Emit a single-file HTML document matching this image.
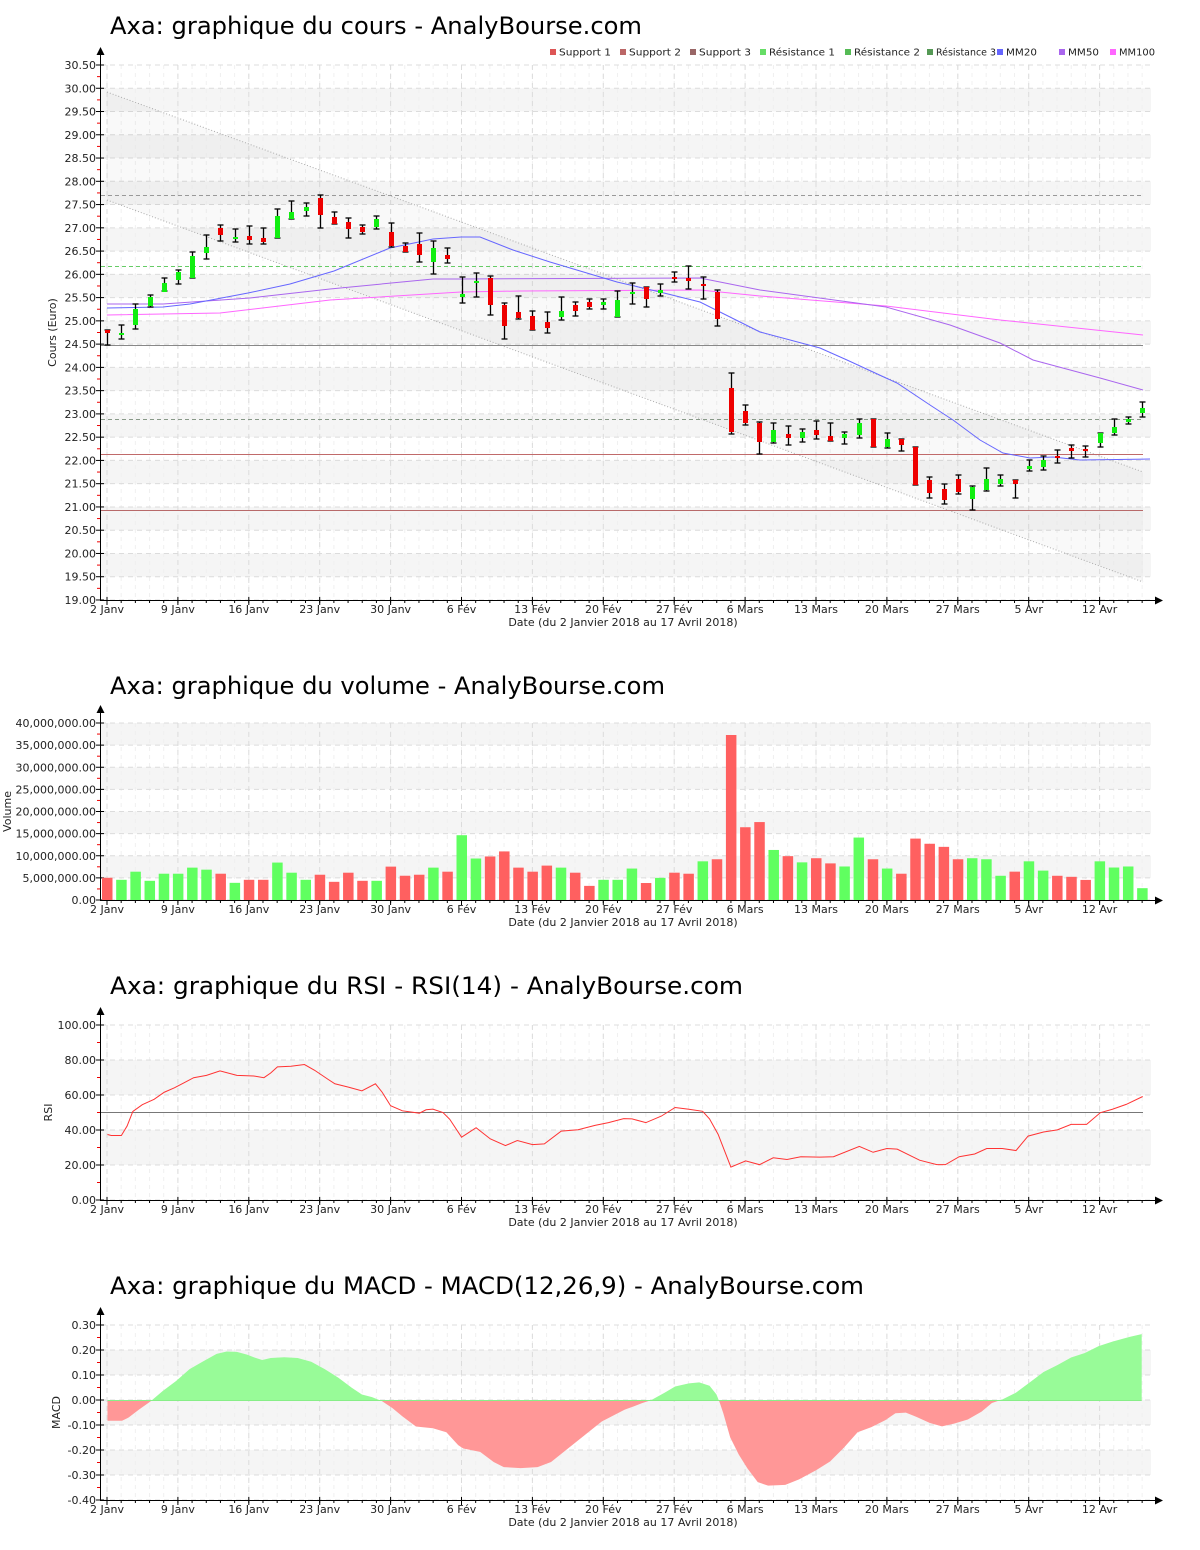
<!DOCTYPE html>
<html><head><meta charset="utf-8"><style>
html,body{margin:0;padding:0;background:#fff;}
svg{display:block;}
text{font-family:"DejaVu Sans","Liberation Sans",sans-serif;}
</style></head><body>
<svg id="s" width="1200" height="1550" xmlns="http://www.w3.org/2000/svg"></svg>
<script>
var S=document.getElementById('s');var out='';
function X(i){return 107+i*14.18;}
function add(s){out+=s;}
var dates=[[0,'2 Janv'],[5,'9 Janv'],[10,'16 Janv'],[15,'23 Janv'],[20,'30 Janv'],[25,'6 Fév'],[30,'13 Fév'],[35,'20 Fév'],[40,'27 Fév'],[45,'6 Mars'],[50,'13 Mars'],[55,'20 Mars'],[60,'27 Mars'],[65,'5 Avr'],[70,'12 Avr']];
function frame(top,bot,xaxisY,labels,grayBands,title,titleY,titleW,ylab,ylabX){
  grayBands.forEach(function(b){add('<rect x="101" y="'+b[0]+'" width="1050" height="'+(b[1]-b[0])+'" fill="#f5f5f5"/>');});
  for(var i=0;i<74;i++){add('<line x1="'+X(i)+'" y1="'+top+'" x2="'+X(i)+'" y2="'+xaxisY+'" stroke="#f0f0f0" stroke-dasharray="4,4"/>');}
  dates.forEach(function(d){add('<line x1="'+X(d[0])+'" y1="'+top+'" x2="'+X(d[0])+'" y2="'+xaxisY+'" stroke="#dcdcdc" stroke-dasharray="5,4"/>');});
  labels.forEach(function(l){add('<line x1="101" y1="'+l[0]+'" x2="1151" y2="'+l[0]+'" stroke="#dcdcdc" stroke-dasharray="5,4"/>');
    add('<text x="96" y="'+(l[0]+4)+'" font-size="11" text-anchor="end" fill="#222">'+l[1]+'</text>');
    add('<line x1="96" y1="'+l[0]+'" x2="104" y2="'+l[0]+'" stroke="#000"/>');});
  for(var k=0;k<labels.length-1;k++){var m=(labels[k][0]+labels[k+1][0])/2;add('<line x1="97" y1="'+m+'" x2="101" y2="'+m+'" stroke="#e00"/>');}
  add('<line x1="100.5" y1="'+(top-14)+'" x2="100.5" y2="'+xaxisY+'" stroke="#000"/>');
  add('<polygon points="100.5,'+(top-18)+' 96.5,'+(top-10)+' 104.5,'+(top-10)+'" fill="#000"/>');
  add('<line x1="100" y1="'+(xaxisY+0.5)+'" x2="1158" y2="'+(xaxisY+0.5)+'" stroke="#000"/>');
  add('<polygon points="1163,'+(xaxisY+0.5)+' 1155,'+(xaxisY-3.5)+' 1155,'+(xaxisY+4.5)+'" fill="#000"/>');
  for(var i=0;i<74;i++){add('<line x1="'+X(i)+'" y1="'+xaxisY+'" x2="'+X(i)+'" y2="'+(xaxisY+3)+'" stroke="#000"/>');}
  dates.forEach(function(d){add('<line x1="'+X(d[0])+'" y1="'+(xaxisY-3)+'" x2="'+X(d[0])+'" y2="'+(xaxisY+5)+'" stroke="#000"/>');
    add('<text x="'+X(d[0])+'" y="'+(xaxisY+13)+'" font-size="11" text-anchor="middle" fill="#222">'+d[1]+'</text>');});
  add('<text x="623" y="'+(xaxisY+26)+'" font-size="11" text-anchor="middle" fill="#222">Date (du 2 Janvier 2018 au 17 Avril 2018)</text>');
  add('<text x="110" y="'+titleY+'" font-size="24" textLength="'+titleW+'" lengthAdjust="spacingAndGlyphs" fill="#000">'+title+'</text>');
  var cy=(top+xaxisY)/2;
  add('<text x="'+ylabX+'" y="'+cy+'" font-size="11" text-anchor="middle" fill="#222" transform="rotate(-90 '+ylabX+' '+cy+')">'+ylab+'</text>');
}
var pl=[],gb=[];
for(var k=0;k<=23;k++){var v=30.5-k*0.5;pl.push([65+k*23.26,v.toFixed(2)]);}
for(var v=30;v>19.6;v-=1){var y1=65+(30.5-v)*46.52;gb.push([y1,y1+23.26]);}
frame(65,600,600,pl,gb,'Axa: graphique du cours - AnalyBourse.com',34,532,'Cours (Euro)',56);
add('<polygon points="107,92 1143,472 1143,582 107,200" fill="rgba(0,0,0,0.025)"/>');
add('<line x1="107" y1="92" x2="1143" y2="472" stroke="#aaa" stroke-dasharray="1,2"/>');
add('<line x1="107" y1="200" x2="1143" y2="582" stroke="#aaa" stroke-dasharray="1,2"/>');
add('<line x1="101" y1="510.5" x2="1143" y2="510.5" stroke="#b86a6a" stroke-width="1"/>');
add('<line x1="101" y1="454.5" x2="1143" y2="454.5" stroke="#c06a6a" stroke-width="1"/>');
add('<line x1="101" y1="345.5" x2="1143" y2="345.5" stroke="#888" stroke-width="1"/>');
add('<line x1="101" y1="266.5" x2="1143" y2="266.5" stroke="#66cc66" stroke-dasharray="4,3"/>');
add('<line x1="101" y1="419.5" x2="1143" y2="419.5" stroke="#889988" stroke-dasharray="4,3"/>');
add('<line x1="101" y1="195.5" x2="1143" y2="195.5" stroke="#999" stroke-dasharray="4,3"/>');
function poly(pts,c){add('<polyline points="'+pts.map(function(p){return p[0]+','+p[1];}).join(' ')+'" fill="none" stroke="'+c+'" stroke-width="1"/>');}
poly([[107,315],[220,313],[330,300],[461,292],[520,291],[700,290],[760,296],[886,306],[1000,320],[1143,335]],'#ff66ff');
poly([[107,304],[163,304],[250,298],[330,289],[433,279],[461,279],[700,278],[760,290],[886,307],[950,325],[1000,343],[1033,360],[1100,378],[1143,390]],'#aa66ee');
poly([[107,308],[163,307],[190,304],[248,293],[290,284],[334,271],[390,248],[433,239],[461,237],[480,237],[513,250],[550,262],[617,282],[660,292],[700,302],[740,322],[760,332],[820,348],[847,360],[886,378],[897,383],[930,405],[953,420],[980,440],[1003,453],[1030,458],[1053,457],[1080,460],[1150,459]],'#6666ff');
var C=[[330,333,330,345,'r'],[333,335,325,339,'g'],[309,325,304,329,'g'],[297,306,295,307,'g'],[283,292,278,291,'g'],[272,280,270,284,'g'],[256,278,252,278,'g'],[247,253,235,259,'g'],[228,235,225,241,'r'],[237,239,229,242,'g'],
[236,240,226,244,'r'],[238,242,228,244,'r'],[216,238,209,238,'g'],[212,219,201,219,'g'],[207,211,203,216,'g'],[198,215,195,228,'r'],[217,224,212,224,'r'],[222,229,218,238,'r'],[227,232,225,234,'r'],[219,227,216,229,'g'],
[232,246,223,247,'r'],[246,252,243,252,'r'],[244,255,233,262,'r'],[248,262,241,274,'g'],[255,259,248,263,'r'],[294,297,277,303,'g'],[281,283,273,297,'g'],[278,305,276,315,'r'],[305,326,303,339,'r'],[312,318,296,319,'r'],
[316,330,311,330,'r'],[322,328,312,333,'r'],[311,317,297,320,'g'],[305,311,302,316,'r'],[302,307,299,309,'r'],[302,305,299,309,'g'],[300,317,291,317,'g'],[292,294,283,304,'g'],[287,299,287,307,'r'],[290,293,284,296,'g'],
[277,279,272,282,'r'],[278,281,266,289,'r'],[284,286,277,299,'r'],[292,319,290,326,'r'],[388,432,373,434,'r'],[411,423,405,425,'r'],[423,442,422,454,'r'],[430,442,423,443,'g'],[434,438,426,445,'r'],[432,438,429,442,'g'],
[430,435,421,439,'r'],[436,441,423,441,'r'],[434,438,432,444,'g'],[423,435,419,438,'g'],[419,447,419,447,'r'],[439,447,433,448,'g'],[439,445,439,451,'r'],[447,485,447,485,'r'],[480,493,477,498,'r'],[489,500,484,504,'r'],
[479,492,475,494,'r'],[487,499,486,510,'g'],[479,490,468,491,'g'],[479,484,475,486,'g'],[480,484,480,498,'r'],[466,469,460,471,'g'],[460,467,456,470,'g'],[456,458,450,463,'r'],[448,451,445,458,'r'],[449,451,446,457,'r'],
[433,443,433,447,'g'],[427,433,419,435,'g'],[419,422,417,424,'g'],[408,413,402,417,'g']];
C.forEach(function(c,i){var x=Math.round(X(i))+0.5;
  add('<line x1="'+x+'" y1="'+c[2]+'" x2="'+x+'" y2="'+c[3]+'" stroke="#000" stroke-width="1.3"/>');
  add('<line x1="'+(x-3)+'" y1="'+c[2]+'" x2="'+(x+3)+'" y2="'+c[2]+'" stroke="#000" stroke-width="1.3"/>');
  add('<line x1="'+(x-3)+'" y1="'+c[3]+'" x2="'+(x+3)+'" y2="'+c[3]+'" stroke="#000" stroke-width="1.3"/>');
  var h=Math.max(c[1]-c[0],2);
  add('<rect x="'+(x-2.5)+'" y="'+c[0]+'" width="5" height="'+h+'" fill="'+(c[4]=='r'?'#ee0000':'#11ee11')+'"/>');});
var L=[[552,'#dd5555','Support 1',52],[622,'#bb6666','Support 2',52],[692,'#996666','Support 3',52],[762,'#66dd66','Résistance 1',66],[847,'#55bb55','Résistance 2',66],[929,'#559955','Résistance 3',60],[999,'#6666ff','MM20',31],[1061,'#aa66ee','MM50',31],[1112,'#ff66ff','MM100',36]];
L.forEach(function(l){add('<rect x="'+(l[0]-2)+'" y="49" width="6" height="6" fill="'+l[1]+'"/>');add('<text x="'+(l[0]+7)+'" y="55.5" font-size="10" textLength="'+l[3]+'" lengthAdjust="spacingAndGlyphs" fill="#222">'+l[2]+'</text>');});
var vl=[],vb=[];
for(var k=0;k<=8;k++){var m=40-k*5;var s=(m*1000000).toLocaleString('en-US')+'.00';if(m==0)s='0.00';vl.push([723+k*22.125,s]);}
[[723,745.1],[767.25,789.4],[811.5,833.6],[855.75,877.9]].forEach(function(b){vb.push(b);});
frame(723,900,900,vl,vb,'Axa: graphique du volume - AnalyBourse.com',694,555,'Volume',11);
var v1=[[171,'r'],[177,'g'],[153,'g'],[180,'g'],[159,'g'],[159,'g'],[141,'g'],[147,'g'],[159,'r'],[186,'g'],[177,'r'],[177,'r'],[126,'g'],[156,'g'],[177,'g'],[162,'r'],[183,'r'],[156,'r'],[180,'r'],[180,'g'],[138,'r'],[165,'r'],[162,'r'],[141,'g'],[153,'r'],[45,'g'],[114,'g'],[108,'r'],[93,'r'],[141,'r'],[153,'r'],[135,'r'],[141,'g'],[156,'r'],[195,'r'],[177,'g'],[177,'g']];
var v2=[[141,'g'],[183,'r'],[168,'g'],[153,'r'],[156,'r'],[120,'g'],[114,'r'],[-40,'r'],[21,'r'],[6,'r'],[87,'g'],[105,'r'],[123,'g'],[111,'r'],[126,'r'],[135,'g'],[51,'g'],[114,'r'],[141,'g'],[156,'r'],[54,'r'],[69,'r'],[78,'r'],[114,'r'],[111,'g'],[114,'g'],[162,'g'],[150,'r'],[120,'g'],[147,'g'],[162,'r'],[165,'r'],[174,'r'],[120,'g'],[138,'g'],[135,'g'],[198,'g']];
var V=v1.map(function(v){return [820+v[0]/2.96,v[1]];}).concat(v2.map(function(v){return [820+v[0]/2.904,v[1]];}));
V[44][0]=735;
V.forEach(function(v,i){var x=X(i);add('<rect x="'+(x-5)+'" y="'+v[0]+'" width="10.5" height="'+(900-v[0])+'" fill="'+(v[1]=='r'?'#ff6060':'#60ff60')+'"/>');});
var rl=[];for(var k=0;k<=5;k++){rl.push([1025+k*35,(100-k*20).toFixed(2)]);}
frame(1025,1200,1200,rl,[[1060,1095],[1130,1165]],'Axa: graphique du RSI - RSI(14) - AnalyBourse.com',994,633,'RSI',52);
add('<line x1="101" y1="1112.5" x2="1143" y2="1112.5" stroke="#777"/>');
var r1=[[37,250],[48,253],[78,253],[95,225],[112,182],[140,162],[175,146],[205,125],[235,112],[262,98],[292,82],[330,75],[370,62],[420,75],[470,77],[500,82],[520,68],[540,50],[580,48],[620,43],[650,60],[690,87],[710,100],[750,110],[790,121],[830,100],[850,125],[875,165],[910,180],[960,187],[980,177],[1000,175],[1030,185],[1050,205],[1085,258],[1105,245],[1128,230],[1170,263],[1215,283],[1250,268],[1295,280],[1330,278],[1380,240],[1430,236],[1480,223],[1520,215],[1565,203]];
var r2=[[35,200],[75,211],[120,192],[160,167],[200,172],[240,178],[260,200],[285,245],[322,340],[365,322],[405,333],[445,313],[485,318],[525,310],[580,311],[620,310],[695,280],[735,297],[775,286],[805,288],[870,320],[920,333],[945,333],[985,310],[1030,302],[1065,286],[1110,286],[1150,292],[1185,250],[1230,238],[1270,232],[1310,216],[1355,216],[1395,182],[1430,172],[1470,158],[1518,135]];
var R=r1.map(function(p){return [95+p[0]/2.96,1050+p[1]/2.96];}).concat(r2.map(function(p){return [620+p[0]/2.904,1050+p[1]/2.904];}));
poly(R,'#ff3333');
var ml=[];for(var k=0;k<=7;k++){var v=0.3-k*0.1;ml.push([1325+k*25,v.toFixed(2)=='-0.00'?'0.00':v.toFixed(2)]);}
frame(1325,1500,1500,ml,[[1350,1375],[1400,1425],[1450,1475]],'Axa: graphique du MACD - MACD(12,26,9) - AnalyBourse.com',1294,754,'MACD',60);
var m1=[[37,328],[80,328],[100,318],[130,295],[165,270],[200,240],[240,210],[280,175],[320,152],[360,130],[390,123],[420,124],[450,132],[470,140],[495,148],[520,142],[560,140],[600,142],[640,153],[680,175],[720,200],[760,230],[790,250],[820,258],[850,270],[880,290],[910,315],[950,345],[1000,350],[1040,362],[1075,400],[1090,410],[1140,420],[1180,450],[1210,465],[1260,468],[1310,465],[1350,450],[1400,410],[1450,370],[1500,330],[1568,295]];
var m2=[[40,280],[65,270],[90,262],[130,240],[160,222],[200,213],[230,210],[260,220],[280,245],[290,270],[300,300],[320,370],[345,420],[370,460],[400,500],[430,510],[480,508],[520,492],[570,465],[610,440],[650,400],[690,355],[730,340],[770,320],[800,300],[830,298],[860,310],[900,328],[935,338],[970,330],[1010,318],[1050,295],[1080,270],[1110,260],[1150,240],[1190,210],[1230,180],[1270,160],[1310,138],[1350,125],[1390,105],[1430,92],[1480,78],[1515,70]];
var M=m1.map(function(p){return [95+p[0]/2.96,1310+p[1]/2.96];}).concat(m2.map(function(p){return [620+p[0]/2.904,1310+p[1]/2.904];}));
var last=M[M.length-1][0];
var pts=M.map(function(p){return p[0]+','+p[1];}).join(' ')+' '+last+',1400.5 '+M[0][0]+',1400.5';
add('<defs><clipPath id="ca"><rect x="100" y="1300" width="1060" height="100.5"/></clipPath><clipPath id="cb"><rect x="100" y="1400.5" width="1060" height="100"/></clipPath></defs>');
add('<polygon points="'+pts+'" fill="#98fb98" clip-path="url(#ca)"/>');
add('<polygon points="'+pts+'" fill="#ff9797" clip-path="url(#cb)"/>');
add('<line x1="'+M[0][0]+'" y1="1400.5" x2="'+last+'" y2="1400.5" stroke="#88ee88"/>');
S.innerHTML=out;
</script>
</body></html>
